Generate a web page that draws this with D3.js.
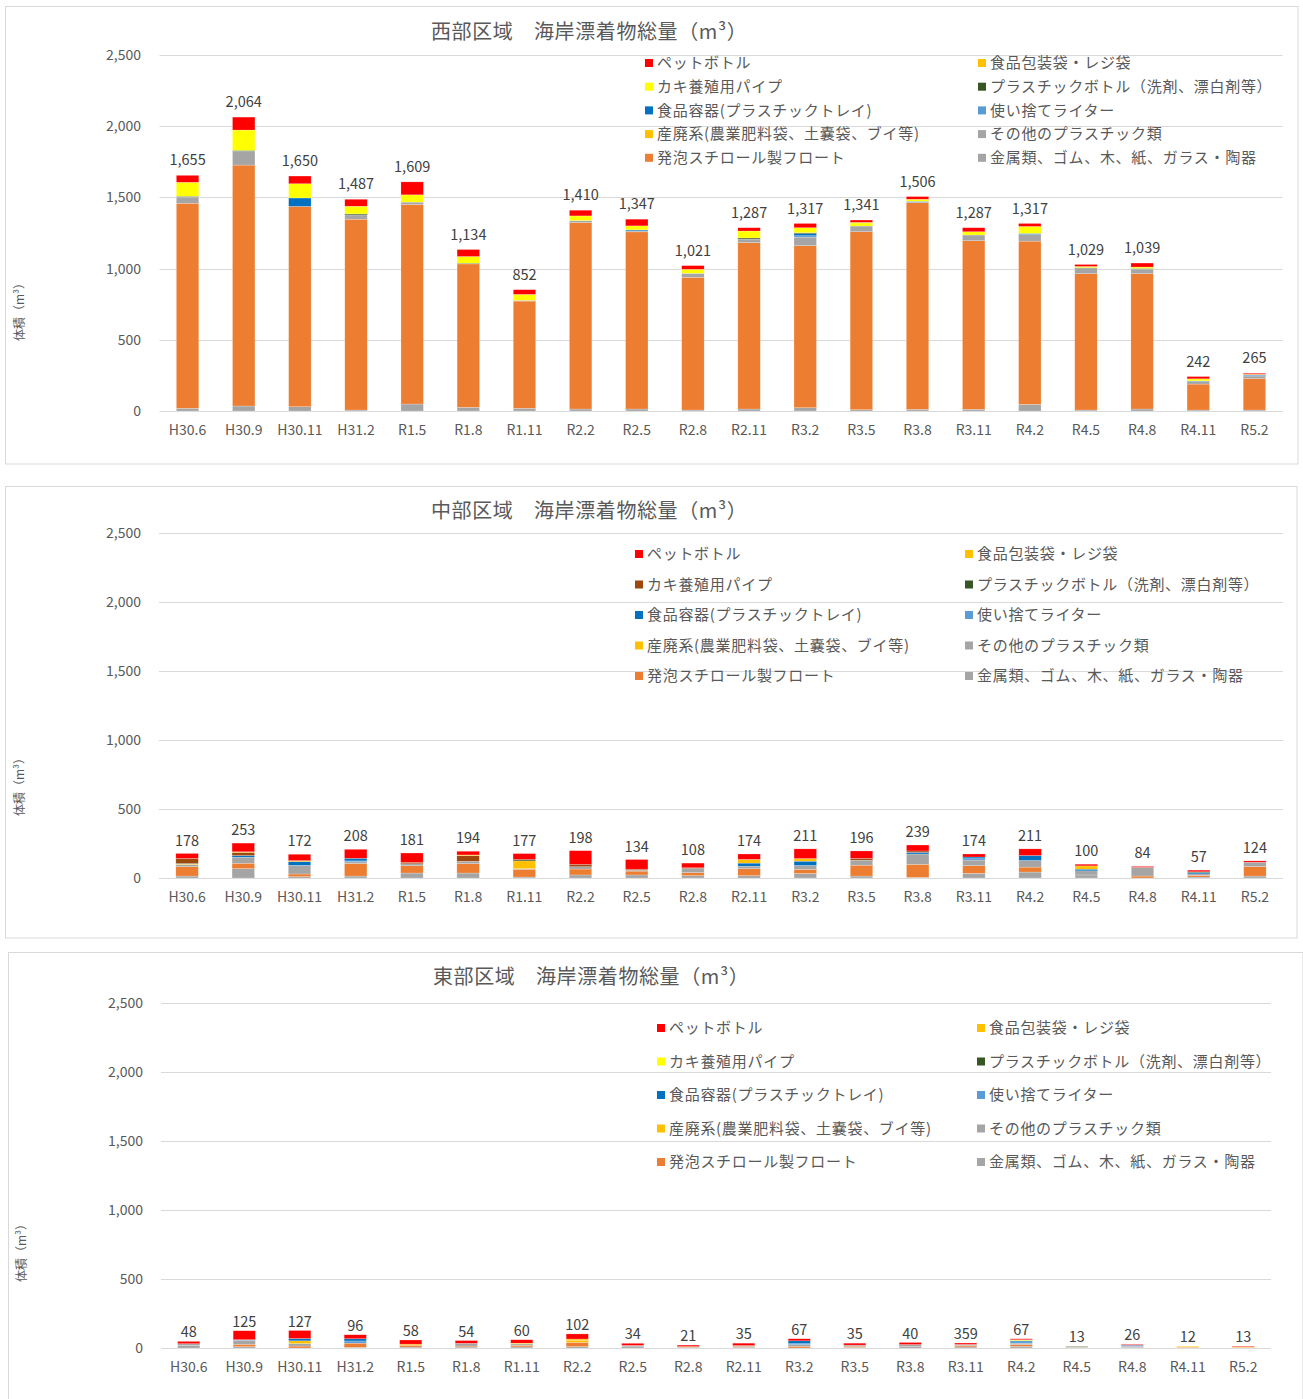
<!DOCTYPE html>
<html>
<head>
<meta charset="utf-8">
<script src="https://cdn.jsdelivr.net/npm/d3@7"></script>
<style>
  body { margin: 0; background: #fff; }
  svg { display: block; }
  text { font-family: "Noto Sans CJK JP", "Noto Sans", sans-serif; }
</style>
</head>
<body>
<svg id="chart" width="1303" height="1399"></svg>
<script>
// ---- categories (survey periods) ----
const categories = ["H30.6","H30.9","H30.11","H31.2","R1.5","R1.8","R1.11","R2.2","R2.5","R2.8",
                    "R2.11","R3.2","R3.5","R3.8","R3.11","R4.2","R4.5","R4.8","R4.11","R5.2"];

const yTicks = [0, 500, 1000, 1500, 2000, 2500];

// legend order (row-major, two columns)
const legendKeys = ["pet","bag","kaki","bottle","tray","lighter","industrial","other","foam","metal"];
const legendNames = ["ペットボトル","食品包装袋・レジ袋","カキ養殖用パイプ","プラスチックボトル（洗剤、漂白剤等）",
                     "食品容器(プラスチックトレイ)","使い捨てライター","産廃系(農業肥料袋、土嚢袋、ブイ等)",
                     "その他のプラスチック類","発泡スチロール製フロート","金属類、ゴム、木、紙、ガラス・陶器"];
// stacking order, bottom to top
const stackKeys = ["metal","foam","other","industrial","lighter","tray","bottle","kaki","bag","pet"];

// ---- 西部区域 (m3) ----
const westMetal      = [19,35,30,7,49,26,19,14,14,7,14,23,9,12,12,47,7,14,7,7];
const westFoam       = [1440,1692,1407,1340,1401,1007,753,1309,1244,932,1168,1138,1250,1452,1184,1146,957,950,182,220];
const westOther      = [44,96,0,30,17,0,5,14,7,28,25,60,40,0,40,47,37,32,18,19];
const westIndustrial = [0,0,0,0,0,0,0,0,0,0,0,0,0,0,0,0,0,0,0,0];
const westLighter    = [0,0,0,0,0,0,0,0,0,0,0,10,0,9,0,0,0,0,0,7];
const westTray       = [0,0,59,0,0,0,0,0,7,0,0,14,0,0,0,7,0,0,3,0];
const westBottle     = [5,7,0,7,0,5,0,0,0,0,8,7,0,0,0,0,5,5,2,0];
const westKaki       = [98,143,100,54,51,47,42,33,28,28,49,35,22,14,23,49,9,10,14,0];
const westBag        = [0,0,0,0,0,0,0,0,0,0,0,0,4,0,0,0,0,0,0,5];
const westPet        = [49,91,54,49,91,49,33,40,47,26,23,30,16,19,28,21,14,28,16,7];
const westTotals     = [1655,2064,1650,1487,1609,1134,852,1410,1347,1021,1287,1317,1341,1506,1287,1317,1029,1039,242,265];

// ---- 中部区域 (m3) ----
const centralMetal      = [14,68,10,14,36,36,7,22,22,17,17,33,14,5,34,43,22,0,7,14];
const centralFoam       = [68,39,19,91,53,68,56,43,28,22,50,29,79,94,55,36,0,14,12,69];
const centralOther      = [14,44,63,12,14,17,5,17,7,30,19,29,36,75,41,48,30,63,11,31];
const centralIndustrial = [5,0,0,0,0,0,56,0,0,0,0,0,0,0,0,0,0,0,0,0];
const centralLighter    = [0,0,0,7,0,0,0,0,0,0,0,0,0,0,10,0,0,0,0,0];
const centralTray       = [0,12,27,19,0,0,0,0,0,0,22,31,0,12,12,36,12,0,10,0];
const centralBottle     = [5,0,0,0,0,0,10,0,0,0,0,0,0,0,0,0,0,0,5,0];
const centralKaki       = [36,22,0,0,10,41,0,17,7,5,0,0,14,10,0,0,0,0,0,0];
const centralBag        = [0,5,7,0,0,5,0,0,0,0,27,19,0,0,0,0,24,0,0,0];
const centralPet        = [36,63,46,65,68,27,43,99,70,34,39,70,53,43,22,48,12,7,12,10];
const centralTotals     = [178,253,172,208,181,194,177,198,134,108,174,211,196,239,174,211,100,84,57,124];

// ---- 東部区域 (m3) ----
const eastMetal      = [19,10,0,5,7,7,8,10,9,5,6,0,5,10,8,12,3,5,3,0];
const eastFoam       = [0,17,14,30,13,7,12,31,0,6,6,12,8,0,10,13,0,0,3,5];
const eastOther      = [12,28,18,0,0,20,6,0,10,0,6,12,8,15,8,10,4,8,0,0];
const eastIndustrial = [0,0,20,0,8,0,0,12,0,0,0,0,0,0,0,0,2,0,6,3];
const eastLighter    = [0,5,0,16,0,0,0,0,0,0,0,8,0,0,0,10,0,8,0,0];
const eastTray       = [0,0,17,16,0,0,0,0,0,0,0,20,0,0,0,8,0,0,0,0];
const eastBottle     = [0,0,0,0,0,0,4,0,0,0,0,0,0,0,0,0,4,0,0,0];
const eastKaki       = [0,0,0,0,0,0,5,0,0,0,0,0,0,0,0,4,0,0,0,0];
const eastBag        = [0,0,0,0,0,0,0,12,0,0,0,0,0,0,0,3,0,0,0,0];
const eastPet        = [17,65,58,29,30,20,25,37,15,10,17,15,14,15,10,7,0,5,0,5];
const eastTotals     = [48,125,127,96,58,54,60,102,34,21,35,67,35,40,359,67,13,26,12,13];

// ---- colours ----
const baseColors = {
  pet: "#FF0000", bag: "#FFC000", kaki: "#FFFF00", bottle: "#375623", tray: "#0070C0",
  lighter: "#5B9BD5", industrial: "#FFC000", other: "#A5A5A5", foam: "#ED7D31", metal: "#A5A5A5"
};
const TEXT = "#595959";
const GRID = "#D9D9D9";

const panels = [
  {
    title: "西部区域　海岸漂着物総量（m³）",
    series: { metal: westMetal, foam: westFoam, other: westOther, industrial: westIndustrial, lighter: westLighter,
              tray: westTray, bottle: westBottle, kaki: westKaki, bag: westBag, pet: westPet },
    totals: westTotals,
    colors: baseColors,
    box: [5.5, 6.5, 1298, 464], titleX: 431, titleY: 32,
    yTop: 55, yBase: 411, xL: 159.5, xR: 1282.5, tickX: 141,
    legX: [645, 978], legY: 63, legDy: 23.7, labOff: 15, catY: 431, yTitle: [20, 309]
  },
  {
    title: "中部区域　海岸漂着物総量（m³）",
    series: { metal: centralMetal, foam: centralFoam, other: centralOther, industrial: centralIndustrial, lighter: centralLighter,
              tray: centralTray, bottle: centralBottle, kaki: centralKaki, bag: centralBag, pet: centralPet },
    totals: centralTotals,
    colors: Object.assign({}, baseColors, { kaki: "#9E480E" }),
    box: [5.5, 486.5, 1297, 938], titleX: 431, titleY: 511,
    yTop: 533, yBase: 878, xL: 159, xR: 1283, tickX: 141,
    legX: [635, 965], legY: 554, legDy: 30.5, labOff: 13, catY: 898, yTitle: [20, 784]
  },
  {
    title: "東部区域　海岸漂着物総量（m³）",
    series: { metal: eastMetal, foam: eastFoam, other: eastOther, industrial: eastIndustrial, lighter: eastLighter,
              tray: eastTray, bottle: eastBottle, kaki: eastKaki, bag: eastBag, pet: eastPet },
    totals: eastTotals,
    colors: baseColors,
    box: [8.5, 952.5, 1303, 1405], titleX: 433, titleY: 977,
    yTop: 1003, yBase: 1348, xL: 161, xR: 1271, tickX: 143,
    legX: [657, 977], legY: 1028, legDy: 33.5, labOff: 9, catY: 1368, yTitle: [22, 1250]
  }
];

const svg = d3.select("#chart");
svg.append("rect").attr("width", 1303).attr("height", 1399).attr("fill", "#fff");

panels.forEach(p => {
  const g = svg.append("g");

  // chart frame
  g.append("rect")
    .attr("x", p.box[0]).attr("y", p.box[1])
    .attr("width", p.box[2] - p.box[0]).attr("height", p.box[3] - p.box[1])
    .attr("fill", "#fff").attr("stroke", GRID).attr("stroke-width", 1);

  const x = d3.scaleBand().domain(categories).range([p.xL, p.xR]).paddingInner(0.6).paddingOuter(0.3);
  const y = d3.scaleLinear().domain([0, 2500]).range([p.yBase, p.yTop]);

  // horizontal gridlines
  g.append("g").selectAll("line").data(yTicks).join("line")
    .attr("x1", p.xL).attr("x2", p.xR)
    .attr("y1", d => Math.round(y(d)) + 0.5).attr("y2", d => Math.round(y(d)) + 0.5)
    .attr("stroke", GRID).attr("stroke-width", 1);

  // y axis tick labels
  const yAxis = d3.axisLeft(y).tickValues(yTicks).tickFormat(d3.format(",")).tickSize(0).tickPadding(0);
  const ya = g.append("g").attr("transform", `translate(${p.tickX},0)`).call(yAxis);
  ya.select(".domain").remove();
  ya.selectAll("text").attr("fill", TEXT).style("font-size", "14px")
    .style("font-family", "'Noto Sans CJK JP', sans-serif");

  // x axis category labels
  const xAxis = d3.axisBottom(x).tickSize(0).tickPadding(0);
  const xa = g.append("g").attr("transform", `translate(0,${p.catY - 10})`).call(xAxis);
  xa.select(".domain").remove();
  xa.selectAll("text").attr("fill", TEXT).style("font-size", "14px").attr("dy", "0.32em").attr("y", 10)
    .style("font-family", "'Noto Sans CJK JP', sans-serif");

  // stacked bars
  const rows = categories.map((c, i) => {
    const r = { cat: c };
    stackKeys.forEach(k => r[k] = p.series[k][i]);
    return r;
  });
  const stacked = d3.stack().keys(stackKeys)(rows);

  g.append("g").selectAll("g").data(stacked).join("g")
    .attr("fill", s => p.colors[s.key])
    .selectAll("rect").data(s => s.filter(d => d[1] - d[0] > 0)).join("rect")
      .attr("x", d => x(d.data.cat))
      .attr("width", x.bandwidth())
      .attr("y", d => y(d[1]))
      .attr("height", d => y(d[0]) - y(d[1]))
      .attr("stroke", "#fff").attr("stroke-width", 0.5).attr("stroke-opacity", 0.45);

  // total labels above each bar
  const tops = rows.map(r => d3.sum(stackKeys, k => r[k]));
  g.append("g").selectAll("text").data(categories).join("text")
    .attr("x", c => x(c) + x.bandwidth() / 2)
    .attr("y", (c, i) => y(tops[i]) - p.labOff)
    .attr("dy", "0.35em")
    .attr("text-anchor", "middle")
    .attr("fill", "#404040").style("font-size", "14.5px")
    .text((c, i) => d3.format(",")(p.totals[i]));

  // title
  g.append("text").attr("x", p.titleX).attr("y", p.titleY).attr("dy", "0.35em")
    .attr("fill", TEXT).style("font-size", "20px").style("letter-spacing", "0.6px").text(p.title);

  // y axis title
  g.append("text")
    .attr("transform", `translate(${p.yTitle[0]},${p.yTitle[1]}) rotate(-90)`)
    .attr("text-anchor", "middle").attr("dy", "0.35em")
    .attr("fill", TEXT).style("font-size", "12px").text("体積（m³）");

  // legend (two columns)
  const leg = g.append("g").selectAll("g").data(legendKeys).join("g")
    .attr("transform", (k, i) => `translate(${p.legX[i % 2]},${p.legY + Math.floor(i / 2) * p.legDy})`);
  leg.append("rect").attr("x", 0).attr("y", -4).attr("width", 8).attr("height", 8)
    .attr("fill", k => p.colors[k]);
  leg.append("text").attr("x", 12).attr("y", 0).attr("dy", "0.35em")
    .attr("fill", TEXT).style("font-size", "15px").style("letter-spacing", "0.7px")
    .text((k, i) => legendNames[i]);
});
</script>
</body>
</html>
